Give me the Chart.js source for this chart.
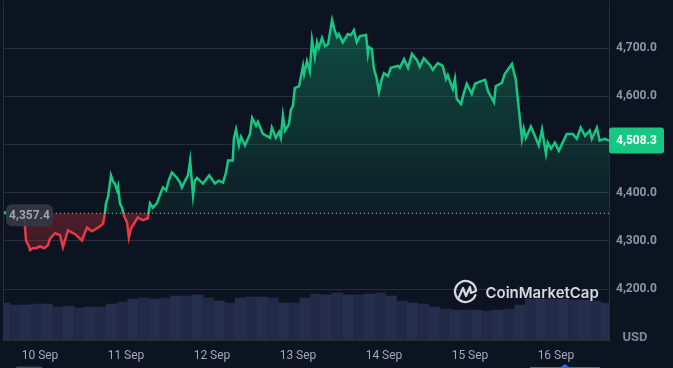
<!DOCTYPE html>
<html>
<head>
<meta charset="utf-8">
<title>Price chart</title>
<script src="https://cdn.jsdelivr.net/npm/chart.js@4"></script>
<style>
    html, body { margin: 0; padding: 0; background: #0d1421; overflow: hidden; }
    canvas { display: block; }
</style>
</head>
<body>
<canvas id="myChart" width="673" height="368"></canvas>
<script>
// hours counted from 10 Sep 00:00
const priceHours = [-4.5,-3.9,-3.1,-2.8,-2.0,-1.1,0,1.1,2.2,2.8,4.2,5.6,6.4,7.8,9.8,11.7,13.1,14.5,16.7,17.6,18.1,18.4,19.0,19.8,20.4,20.9,21.5,21.8,22.3,22.9,23.4,24.3,24.8,25.4,25.9,27.3,28.7,30.1,30.7,31.5,32.6,33.5,34.3,35.2,36.0,36.8,38.2,39.1,39.6,40.5,41.3,41.9,42.7,43.2,43.8,45.5,47.2,48.8,49.9,51.1,51.9,52.5,53.8,54.1,54.7,55.5,56.1,57.2,58.6,59.2,60.3,60.8,62.2,64.2,64.7,65.8,66.7,67.2,67.8,68.4,69.5,70.0,70.6,71.1,72.3,73.4,73.7,74.5,75.3,75.9,76.7,77.3,77.8,78.7,79.5,80.4,81.5,82.3,82.9,83.4,84.5,85.9,86.8,87.6,88.4,89.3,91.0,91.5,91.8,92.6,93.2,94.0,94.6,95.4,96.0,97.1,97.9,99.9,100.4,101.6,102.7,103.8,105.2,106.0,107.1,108.8,109.6,111.0,112.4,113.3,113.8,115.2,115.8,116.3,117.5,118.3,119.1,120.5,121.4,123.3,124.2,125.0,126.7,127.2,128.9,129.7,131.7,132.8,133.6,134.5,135.0,135.6,137.0,138.1,139.2,140.1,141.2,141.7,142.6,143.7,144.8,147.0,148.7,149.8,150.9,152.1,153.4,154.0,155.4,156.2,157.6,158.8];
const prices = [4357,4301,4289,4281,4285,4285,4289,4285,4291,4305,4316,4312,4287,4322,4314,4301,4328,4320,4330,4336,4357,4378,4392,4436,4423,4419,4405,4413,4378,4369,4353,4338,4307,4326,4332,4349,4343,4347,4378,4369,4378,4396,4411,4405,4427,4442,4431,4421,4411,4425,4436,4467,4394,4425,4431,4419,4436,4419,4425,4421,4442,4467,4467,4512,4531,4498,4516,4498,4522,4555,4539,4547,4522,4514,4535,4514,4526,4514,4560,4529,4543,4572,4580,4617,4621,4663,4646,4673,4652,4717,4681,4712,4700,4721,4704,4708,4758,4735,4723,4729,4712,4729,4727,4737,4712,4725,4727,4688,4702,4698,4657,4636,4609,4636,4648,4642,4659,4663,4659,4677,4659,4688,4675,4661,4679,4665,4655,4669,4663,4636,4644,4615,4636,4595,4584,4607,4626,4605,4626,4632,4634,4611,4588,4621,4628,4646,4667,4634,4576,4512,4533,4514,4537,4518,4498,4531,4481,4504,4491,4504,4487,4522,4522,4512,4535,4518,4529,4512,4535,4508,4512,4508.3];
// one bar every 3 hours, starting 10 hours before 10 Sep
const volumes = [18.5,17.5,17.5,18,18,16.5,17,16,16.5,16.5,18,19,20.5,21,20.5,21,22,22,22.5,21,19.5,18.5,21,21.5,21.5,21,18.5,18.5,21,23,22.5,23.5,22.5,22.5,23,23.5,22,19.5,18.5,18,16.5,15.5,15,15,15,14.5,15,15.5,17.5,20.5,20.5,20.5,20.5,20,20,19.5,18.5];
const dayTicks = [0,24,48,72,96,120,144];
const dayLabels = ['10 Sep','11 Sep','12 Sep','13 Sep','14 Sep','15 Sep','16 Sep'];
const priceTicks = [4200,4300,4400,4500,4600,4700];
const openPrice = 4357.4;
const lastPrice = 4508.3;

const green = '#16c784';
const red = '#ea3943';
const gridColor = '#272e3a';

function money(v){
    return v.toLocaleString('en-US', {minimumFractionDigits: 1, maximumFractionDigits: 1});
}

// labels, tags and the watermark, placed on top of the chart
const overlay = {
    id: 'overlay',
    afterDraw(chart){
        const ctx = chart.ctx;
        const yScale = chart.scales.y;
        const openY = yScale.getPixelForValue(openPrice);
        const lastY = yScale.getPixelForValue(lastPrice);
        ctx.save();

        ctx.fillStyle = green;
        ctx.fillRect(4, openY - 2, 2, 3);

        ctx.fillStyle = 'rgba(52,56,68,0.9)';
        ctx.beginPath();
        ctx.roundRect(6, openY - 9, 47, 22, 6);
        ctx.fill();
        ctx.fillStyle = '#a0a3ae';
        ctx.font = '700 12px Roboto';
        ctx.textAlign = 'center';
        ctx.textBaseline = 'middle';
        ctx.fillText(money(openPrice), 29.5, openY + 3);

        ctx.fillStyle = green;
        ctx.beginPath();
        ctx.roundRect(609, lastY - 13, 55, 26, 3);
        ctx.fill();
        ctx.fillStyle = '#ffffff';
        ctx.font = '700 12px Roboto';
        ctx.fillText(money(lastPrice), 636.5, lastY + 0.5);

        ctx.fillStyle = '#7d879c';
        ctx.font = '700 13px Roboto';
        ctx.fillText('USD', 635, 337.5);

        // logo
        ctx.strokeStyle = '#d5d8df';
        ctx.lineWidth = 2.2;
        ctx.lineJoin = 'round';
        ctx.lineCap = 'round';
        ctx.beginPath();
        ctx.arc(465.5, 291.5, 10.5, 0.35, Math.PI * 2 - 0.1);
        ctx.stroke();
        ctx.beginPath();
        ctx.moveTo(459, 297);
        ctx.lineTo(463, 288);
        ctx.lineTo(466, 296);
        ctx.lineTo(470, 287);
        ctx.lineTo(471, 293);
        ctx.lineTo(476, 291);
        ctx.stroke();

        ctx.fillStyle = '#d5d8df';
        ctx.font = '600 15px Inter';
        ctx.textAlign = 'left';
        ctx.fillText('CoinMarketCap', 485.5, 293);

        // edges of the controls under the chart
        ctx.fillStyle = '#434a57';
        ctx.beginPath();
        ctx.roundRect(15, 366.5, 28, 6, 3);
        ctx.fill();
        ctx.fillStyle = '#3861fb';
        ctx.fillRect(530, 367, 70, 1);
        ctx.beginPath();
        ctx.moveTo(561, 367);
        ctx.lineTo(565, 364);
        ctx.lineTo(569, 367);
        ctx.fill();
        ctx.restore();
    }
};

const chart = new Chart(document.getElementById('myChart'), {
    type: 'line',
    data: {
        datasets: [
            {
                label: 'Open',
                data: [{x: priceHours[0], y: openPrice}, {x: priceHours[priceHours.length - 1], y: openPrice}],
                borderColor: 'rgba(255,255,255,0.75)',
                borderWidth: 1,
                borderDash: [1, 3],
                pointRadius: 0,
                order: 0
            },
            {
                label: 'Price',
                data: priceHours.map((h, i) => ({x: h, y: prices[i]})),
                borderColor: green,
                borderWidth: 2.5,
                pointRadius: 0,
                tension: 0,
                fill: {target: {value: openPrice}, above: 'transparent', below: 'transparent'},
                order: 1
            },
            {
                type: 'bar',
                label: 'Volume',
                yAxisID: 'vol',
                data: volumes.map((v, i) => ({x: -10 + 3 * i, y: v})),
                backgroundColor: volumes.map((v, i) => i % 2 ? '#232a47' : '#262e4d'),
                barPercentage: 1,
                categoryPercentage: 1,
                order: 2
            }
        ]
    },
    options: {
        responsive: false,
        animation: false,
        events: [],
        layout: {padding: {left: 3, right: 0, top: 0, bottom: 0}},
        plugins: {legend: {display: false}, tooltip: {enabled: false}},
        scales: {
            x: {
                type: 'linear',
                min: -10.33,
                max: 158.8,
                offset: false,
                grid: {display: false, offset: false},
                border: {display: true, color: gridColor},
                afterBuildTicks: axis => { axis.ticks = dayTicks.map(v => ({value: v})); },
                afterFit: axis => { axis.height = 28; axis.paddingLeft = 0; axis.paddingRight = 0; },
                ticks: {
                    autoSkip: false,
                    maxRotation: 0,
                    padding: 1,
                    color: '#a1a7bb',
                    font: {family: 'Roboto', size: 12},
                    callback: v => dayLabels[dayTicks.indexOf(v)]
                }
            },
            y: {
                position: 'right',
                min: 4094.6,
                max: 4797.1,
                grid: {color: gridColor, drawTicks: false},
                border: {display: true, color: gridColor},
                afterBuildTicks: axis => { axis.ticks = priceTicks.map(v => ({value: v})); },
                afterFit: axis => { axis.width = 64; axis.paddingTop = 0; axis.paddingBottom = 0; },
                ticks: {
                    padding: 7,
                    color: '#8c94a8',
                    font: {family: 'Roboto', size: 12, weight: '700'},
                    callback: v => money(v)
                }
            },
            vol: {
                position: 'left',
                min: 0,
                max: 170,
                grid: {display: false},
                border: {display: true, color: gridColor},
                ticks: {display: false},
                afterFit: axis => { axis.width = 0; }
            }
        }
    },
    plugins: [overlay]
});

// gradients need the scale pixels, so they are set once the chart is laid out
const ctx = chart.ctx;
const openY = chart.scales.y.getPixelForValue(openPrice);

const stroke = ctx.createLinearGradient(0, openY - 1, 0, openY + 1);
stroke.addColorStop(0, green);
stroke.addColorStop(0.5, green);
stroke.addColorStop(0.5, red);
stroke.addColorStop(1, red);

const above = ctx.createLinearGradient(0, chart.scales.y.getPixelForValue(4758), 0, openY);
above.addColorStop(0, 'rgba(22,199,132,0.32)');
above.addColorStop(1, 'rgba(22,199,132,0.06)');

const below = ctx.createLinearGradient(0, openY, 0, chart.scales.y.getPixelForValue(4281));
below.addColorStop(0, 'rgba(234,57,67,0.3)');
below.addColorStop(1, 'rgba(234,57,67,0.2)');

chart.data.datasets[1].borderColor = stroke;
chart.data.datasets[1].fill = {target: {value: openPrice}, above: above, below: below};
chart.update('none');
</script>
</body>
</html>
